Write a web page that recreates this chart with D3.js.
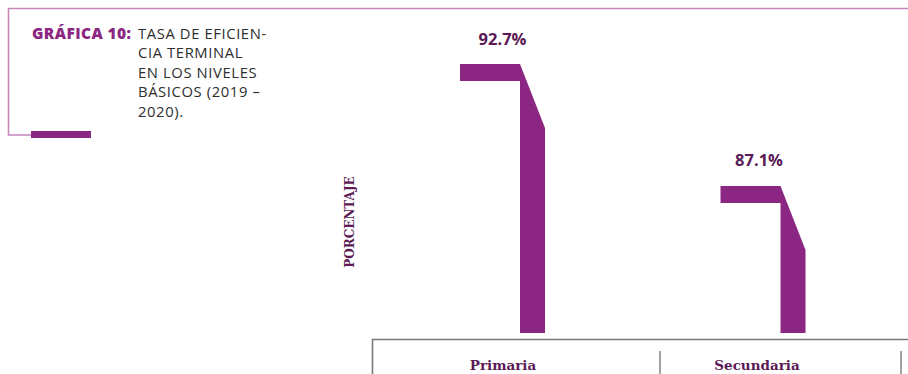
<!DOCTYPE html>
<html>
<head>
<meta charset="utf-8">
<script src="https://cdn.jsdelivr.net/npm/d3@7"></script>
<style>
  html, body { margin: 0; padding: 0; background: #fff; }
  svg { display: block; }
</style>
</head>
<body>
<svg id="chart" width="908" height="374"></svg>
<script>
// ---- data ----
const categories = ["Primaria", "Secundaria"];
const values = [92.7, 87.1];
const valueLabels = ["92.7%", "87.1%"];
const titleBold = "GRÁFICA 10:";
const titleLines = ["TASA DE EFICIEN-", "CIA TERMINAL", "EN LOS NIVELES", "BÁSICOS (2019 –", "2020)."];
const yAxisLabel = "PORCENTAJE";

// ---- styles ----
const purple = "#8b2782";
const darkPurple = "#5b1a55";
const frameColor = "#c585bd";
const axisColor = "#7a7a7a";

const svg = d3.select("#chart");

// frame
svg.append("path")
  .attr("d", "M908,8.5 H8.5 V135 H31")
  .attr("fill", "none").attr("stroke", frameColor).attr("stroke-width", 1.6);
svg.append("rect").attr("x", 31).attr("y", 131).attr("width", 60).attr("height", 7).attr("fill", purple);

// title
svg.append("text").attr("x", 32).attr("y", 38.5)
  .attr("font-family", "'Open Sans', sans-serif").attr("font-size", 15.5)
  .attr("letter-spacing", 0.4)
  .attr("font-weight", 800).attr("fill", purple).text(titleBold);
titleLines.forEach((l, i) => {
  svg.append("text").attr("x", 138).attr("y", 38.5 + i * 19.6)
    .attr("font-family", "'Open Sans', sans-serif").attr("font-size", 14.8)
    .attr("letter-spacing", 0.6)
    .attr("fill", "#2e2e2e").attr("font-weight", 400).text(l);
});

// scales
const y = d3.scaleLinear().domain([80.35, 92.7]).range([333, 64]);
const x = d3.scalePoint().domain(categories).range([502.5, 763]);
const xLabel = d3.scalePoint().domain(categories).range([503, 757]);

const flagLeft = 42.5, stemL = 17.5, stemR = 42.5, flagH = 17, slant = 64;

// bars (flag shapes)
svg.selectAll("path.bar").data(categories).enter().append("path")
  .attr("class", "bar")
  .attr("fill", purple)
  .attr("d", (c, i) => {
    const cx = x(c), top = y(values[i]), base = y.range()[0];
    return `M${cx - flagLeft},${top} L${cx + stemL},${top} L${cx + stemR},${top + slant} L${cx + stemR},${base} L${cx + stemL},${base} L${cx + stemL},${top + flagH} L${cx - flagLeft},${top + flagH} Z`;
  });

// value labels
svg.selectAll("text.val").data(categories).enter().append("text")
  .attr("class", "val")
  .attr("x", (c, i) => x(c) - (i === 1 ? 4 : 0))
  .attr("y", (c, i) => y(values[i]) - 19.5)
  .attr("text-anchor", "middle")
  .attr("font-family", "'Open Sans', sans-serif")
  .attr("font-weight", 700).attr("font-size", 16.5)
  .attr("fill", darkPurple)
  .text((c, i) => valueLabels[i]);

// category axis box
svg.append("path")
  .attr("d", "M372.5,374 V339.5 H908")
  .attr("fill", "none").attr("stroke", axisColor).attr("stroke-width", 1.6);
[660, 901].forEach(sx => {
  svg.append("line").attr("x1", sx).attr("x2", sx).attr("y1", 351).attr("y2", 374)
    .attr("stroke", axisColor).attr("stroke-width", 1.4);
});

svg.selectAll("text.cat").data(categories).enter().append("text")
  .attr("class", "cat")
  .attr("x", c => xLabel(c)).attr("y", 370)
  .attr("text-anchor", "middle")
  .attr("font-family", "'DejaVu Serif', serif").attr("font-weight", 700).attr("font-size", 13.5)
  .attr("fill", darkPurple)
  .text(c => c);

// y-axis label
svg.append("text")
  .attr("transform", "translate(354,222) rotate(-90)")
  .attr("text-anchor", "middle")
  .attr("font-family", "'DejaVu Serif', serif").attr("font-weight", 700).attr("font-size", 12)
  .attr("fill", darkPurple)
  .text(yAxisLabel);
</script>
</body>
</html>
